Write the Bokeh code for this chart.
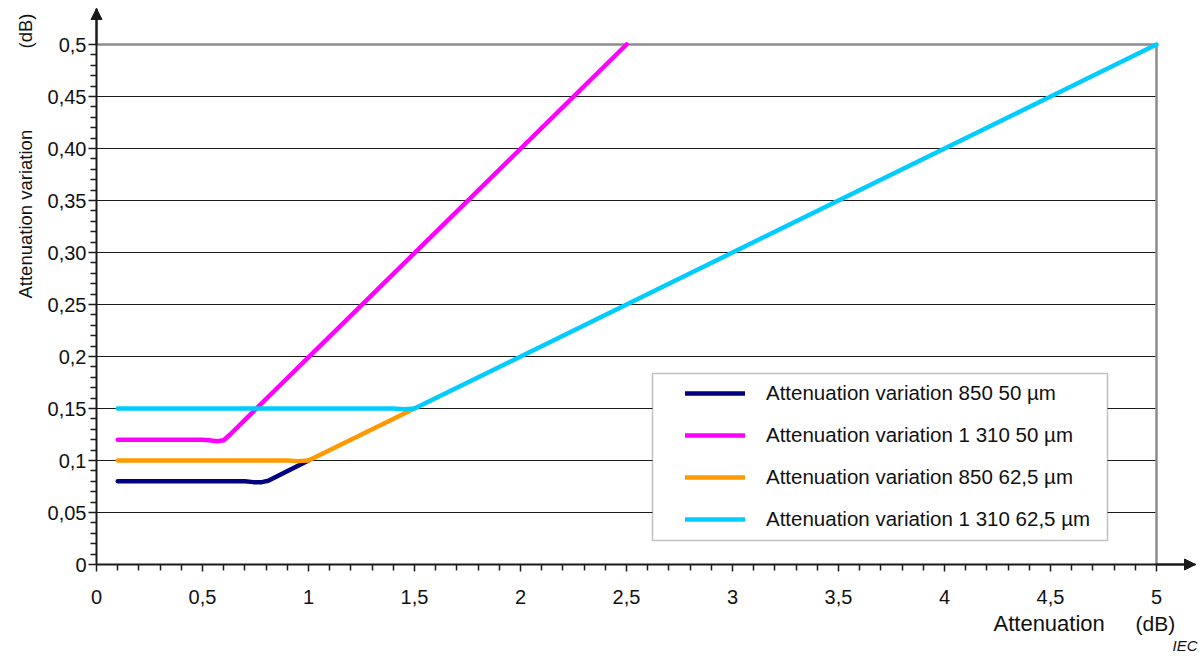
import math
from bokeh.plotting import figure
from bokeh.models import (FixedTicker, Label, Legend, LegendItem, BoxAnnotation,
                          Arrow, NormalHead, Range1d)
from bokeh.embed import file_html
from bokeh.resources import INLINE

# ---------------- data ----------------
series_labels = [
    "Attenuation variation 850 50 µm",
    "Attenuation variation 1 310 50 µm",
    "Attenuation variation 850 62,5 µm",
    "Attenuation variation 1 310 62,5 µm",
]
series_colors = ["#000080", "#FF00FF", "#FF9900", "#00CCFF"]

x_850_50 = [0.1, 0.7, 0.74, 0.78, 0.81, 1.0]
y_850_50 = [0.08, 0.08, 0.0792, 0.0792, 0.0805, 0.1]

x_1310_50 = [0.1, 0.5, 0.53, 0.57, 0.6, 0.63, 2.5]
y_1310_50 = [0.12, 0.12, 0.1195, 0.1185, 0.1195, 0.125, 0.5]

x_850_625 = [0.1, 0.9, 0.95, 1.0, 1.5]
y_850_625 = [0.1, 0.1, 0.0994, 0.1, 0.15]

x_1310_625 = [0.1, 1.4, 1.45, 1.5, 5.0]
y_1310_625 = [0.15, 0.15, 0.1493, 0.15, 0.5]

x_ticks = [0, 0.5, 1, 1.5, 2, 2.5, 3, 3.5, 4, 4.5, 5]
x_tick_labels = ["0", "0,5", "1", "1,5", "2", "2,5", "3", "3,5", "4", "4,5", "5"]
y_ticks = [0, 0.05, 0.1, 0.15, 0.2, 0.25, 0.3, 0.35, 0.4, 0.45, 0.5]
y_tick_labels = ["0", "0,05", "0,1", "0,15", "0,2", "0,25", "0,30", "0,35", "0,40", "0,45", "0,5"]
y_grid = [0.05, 0.1, 0.15, 0.2, 0.25, 0.3, 0.35, 0.4, 0.45]

x_title = "Attenuation"
y_title = "Attenuation variation"
unit = "(dB)"
source_note = "IEC"

FONT = "Liberation Sans"
INK = "#111111"

# ---------------- figure ----------------
W, H = 1200, 658
PX_X = 212.0    # pixels per unit on x
PX_Y = 1040.0   # pixels per unit on y
X0_PX, Y0_PX = 96.0, 564.0   # pixel position of the origin

x_start = -X0_PX / PX_X
x_end = (W - X0_PX) / PX_X
y_end = Y0_PX / PX_Y
y_start = -(H - Y0_PX) / PX_Y

X_ARROW = (1195 - X0_PX) / PX_X
Y_ARROW = (Y0_PX - 8) / PX_Y

p = figure(width=W, height=H, x_range=Range1d(x_start, x_end), y_range=Range1d(y_start, y_end),
           output_backend="svg", toolbar_location=None,
           min_border_left=0, min_border_right=0, min_border_top=0, min_border_bottom=0)
p.outline_line_color = None
p.xgrid.visible = False
p.ygrid.visible = False
p.background_fill_color = "white"
p.border_fill_color = "white"

# grid lines (only up to x = 5)
p.segment(x0=0, x1=5, y0=y_grid, y1=y_grid, line_color="#1a1a1a", line_width=1.2)
p.segment(x0=0, x1=5, y0=0.5, y1=0.5, line_color="#8c8c8c", line_width=2.5)
p.segment(x0=5, x1=5, y0=0, y1=0.5, line_color="#8c8c8c", line_width=2.5)

# series
xs = [x_850_50, x_1310_50, x_850_625, x_1310_625]
ys = [y_850_50, y_1310_50, y_850_625, y_1310_625]
renderers = []
for xv, yv, c in zip(xs, ys, series_colors):
    r = p.line(xv, yv, line_color=c, line_width=4.5, line_cap="round", line_join="round")
    renderers.append(r)

# axes (drawn at the data origin)
x_minor = [round(i * 0.1, 1) for i in range(1, 50) if i % 5 != 0]
y_minor = [round(i * 0.01, 2) for i in range(1, 50) if i % 5 != 0]

xa = p.xaxis[0]
xa.fixed_location = 0
xa.bounds = (0, X_ARROW)
xa.ticker = FixedTicker(ticks=x_ticks, minor_ticks=x_minor)
xa.major_label_overrides = dict(zip(x_ticks, x_tick_labels))
xa.axis_line_width = 2
xa.axis_line_color = "#1a1a1a"
xa.major_tick_in = 0
xa.major_tick_out = 7
xa.minor_tick_in = 0
xa.minor_tick_out = 6
xa.major_tick_line_width = 1.5
xa.minor_tick_line_width = 1.5
xa.major_tick_line_color = "#1a1a1a"
xa.minor_tick_line_color = "#1a1a1a"
xa.major_label_standoff = 18
xa.major_label_text_font = FONT
xa.major_label_text_font_size = "20px"
xa.major_label_text_color = INK

ya = p.yaxis[0]
ya.fixed_location = 0
ya.bounds = (0, Y_ARROW)
ya.ticker = FixedTicker(ticks=y_ticks, minor_ticks=y_minor)
ya.major_label_overrides = dict(zip(y_ticks, y_tick_labels))
ya.axis_line_width = 2
ya.axis_line_color = "#1a1a1a"
ya.major_tick_in = 0
ya.major_tick_out = 8
ya.minor_tick_in = 0
ya.minor_tick_out = 6
ya.major_tick_line_width = 1.5
ya.minor_tick_line_width = 1.5
ya.major_tick_line_color = "#1a1a1a"
ya.minor_tick_line_color = "#1a1a1a"
ya.major_label_standoff = 2
ya.major_label_text_font = FONT
ya.major_label_text_font_size = "20px"
ya.major_label_text_color = INK

# axis arrows
p.add_layout(Arrow(end=NormalHead(size=11, fill_color="#1a1a1a", line_color="#1a1a1a"),
                   x_start=0, y_start=0.5, x_end=0, y_end=Y_ARROW,
                   line_color="#1a1a1a", line_width=2))
p.add_layout(Arrow(end=NormalHead(size=11, fill_color="#1a1a1a", line_color="#1a1a1a"),
                   x_start=5, y_start=0, x_end=X_ARROW, y_end=0,
                   line_color="#1a1a1a", line_width=2))

def px_x(px):
    return (px - X0_PX) / PX_X

def px_y(px):
    return (Y0_PX - px) / PX_Y

# axis titles
p.add_layout(Label(x=px_x(25), y=px_y(298), text=y_title, angle=math.pi / 2,
                   text_align="left", text_baseline="alphabetic",
                   text_font=FONT, text_font_size="18.5px", text_color=INK))
p.add_layout(Label(x=px_x(25), y=px_y(48), text=unit, angle=math.pi / 2,
                   text_align="left", text_baseline="alphabetic",
                   text_font=FONT, text_font_size="18.5px", text_color=INK))
p.add_layout(Label(x=px_x(993), y=px_y(623), text=x_title,
                   text_align="left", text_baseline="alphabetic",
                   text_font=FONT, text_font_size="22px", text_color=INK))
p.add_layout(Label(x=px_x(1135), y=px_y(623), text=unit,
                   text_align="left", text_baseline="alphabetic",
                   text_font=FONT, text_font_size="21px", text_color=INK))
p.add_layout(Label(x=px_x(1197), y=px_y(645), text=source_note,
                   text_align="right", text_baseline="alphabetic",
                   text_font=FONT, text_font_size="15px", text_font_style="italic",
                   text_color=INK))

# legend box
p.add_layout(BoxAnnotation(left=px_x(652), right=px_x(1107), bottom=px_y(540), top=px_y(373),
                           fill_color="white", fill_alpha=1.0,
                           line_color="#333333", line_width=1.5))

legend = Legend(items=[LegendItem(label=l, renderers=[r]) for l, r in zip(series_labels, renderers)],
                location=(685, H - 531), padding=0, margin=0, spacing=18,
                glyph_width=60, glyph_height=24, label_height=24, label_standoff=21,
                label_text_font=FONT, label_text_font_size="20.5px", label_text_color=INK,
                border_line_color=None, background_fill_alpha=0)
p.add_layout(legend)

open("out.html", "w").write(file_html(p, INLINE))
